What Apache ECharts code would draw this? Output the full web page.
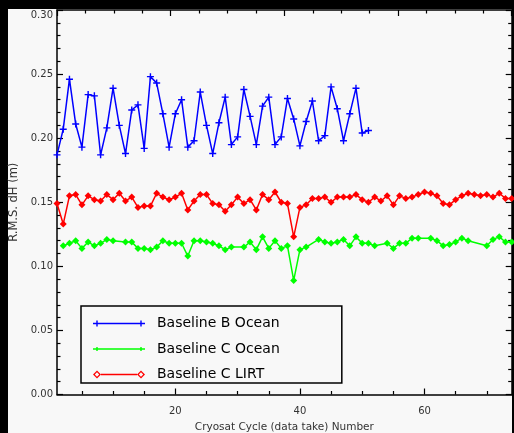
<!DOCTYPE html>
<html>
<head>
<meta charset="utf-8">
<script src="https://cdn.jsdelivr.net/npm/echarts@6/dist/echarts.min.js"></script>
<style>
  html, body { margin: 0; padding: 0; background: #000; }
  #bg { position: absolute; left: 8px; top: 9px; width: 504px; height: 424px; background: #f8f8f8; }
  #chart { position: absolute; left: 0; top: 0; width: 514px; height: 433px; }
</style>
</head>
<body>
<div id="bg"></div>
<div id="chart"></div>
<script>
// cycle numbers and r.m.s. values
const cycleBOcean = [1, 2, 3, 4, 5, 6, 7, 8, 9, 10, 11, 12, 13, 14, 15, 16, 17, 18, 19, 20,
  21, 22, 23, 24, 25, 26, 27, 28, 29, 30, 31, 32, 33, 34, 35, 36, 37, 38, 39, 40,
  41, 42, 43, 44, 45, 46, 47, 48, 49, 50, 51]
const rmsBOcean = [0.187, 0.207, 0.246, 0.211, 0.193, 0.234, 0.233, 0.187, 0.208, 0.239,
  0.210, 0.188, 0.222, 0.226, 0.192, 0.248, 0.243, 0.219, 0.193, 0.219,
  0.230, 0.193, 0.198, 0.236, 0.210, 0.188, 0.212, 0.232, 0.195, 0.201,
  0.238, 0.217, 0.195, 0.225, 0.232, 0.195, 0.201, 0.231, 0.215, 0.194,
  0.213, 0.229, 0.198, 0.202, 0.240, 0.223, 0.198, 0.219, 0.239, 0.204, 0.206]

const cycleCOcean = [2, 3, 4, 5, 6, 7, 8, 9, 10, 12, 13, 14, 15, 16, 17, 18, 19, 20,
  21, 22, 23, 24, 25, 26, 27, 28, 29, 31, 32, 33, 34, 35, 36, 37, 38, 39, 40,
  41, 43, 44, 45, 46, 47, 48, 49, 50, 51, 52, 54, 55, 56, 57, 58, 59,
  61, 62, 63, 64, 65, 66, 67, 70, 71, 72, 73, 74]
const rmsCOcean = [0.116, 0.118, 0.120, 0.114, 0.119, 0.116, 0.118, 0.121, 0.120, 0.119, 0.119, 0.114, 0.114, 0.113, 0.115, 0.120, 0.118, 0.118,
  0.118, 0.108, 0.120, 0.120, 0.119, 0.118, 0.116, 0.113, 0.115, 0.115, 0.119, 0.113, 0.123, 0.114, 0.120, 0.114, 0.116, 0.089, 0.113,
  0.115, 0.121, 0.119, 0.118, 0.119, 0.121, 0.116, 0.123, 0.118, 0.118, 0.116, 0.118, 0.114, 0.118, 0.118, 0.122, 0.122,
  0.122, 0.120, 0.116, 0.117, 0.119, 0.122, 0.120, 0.116, 0.121, 0.123, 0.119, 0.119]

const cycleCLirt = [1, 2, 3, 4, 5, 6, 7, 8, 9, 10, 11, 12, 13, 14, 15, 16, 17, 18, 19, 20,
  21, 22, 23, 24, 25, 26, 27, 28, 29, 30, 31, 32, 33, 34, 35, 36, 37, 38, 39, 40,
  41, 42, 43, 44, 45, 46, 47, 48, 49, 50, 51, 52, 53, 54, 55, 56, 57, 58, 59, 60,
  61, 62, 63, 64, 65, 66, 67, 68, 69, 70, 71, 72, 73, 74]
const rmsCLirt = [0.149, 0.133, 0.155, 0.156, 0.148, 0.155, 0.152, 0.151, 0.156, 0.152,
  0.157, 0.151, 0.154, 0.146, 0.147, 0.147, 0.157, 0.154, 0.152, 0.154,
  0.157, 0.144, 0.151, 0.156, 0.156, 0.149, 0.148, 0.143, 0.148, 0.154,
  0.149, 0.152, 0.144, 0.156, 0.152, 0.158, 0.150, 0.149, 0.123, 0.146,
  0.148, 0.153, 0.153, 0.154, 0.150, 0.154, 0.154, 0.154, 0.156, 0.152,
  0.150, 0.154, 0.151, 0.155, 0.148, 0.155, 0.153, 0.154, 0.156, 0.158,
  0.157, 0.155, 0.149, 0.148, 0.152, 0.155, 0.157, 0.156, 0.155, 0.156,
  0.154, 0.157, 0.153, 0.153]

const xLabelValues = [20, 40, 60]
const xMinorValues = [5, 10, 15, 25, 30, 35, 45, 50, 55, 65, 70]

const font = 'DejaVu Sans'
const plusSymbol = 'path://M4,0H6V4H10V6H6V10H4V6H0V4H4Z'
const iconBlue = 'path://M0,3.3H52V4.7H0Z M3.3,1H4.7V7H3.3Z M47.3,1H48.7V7H47.3Z'
const iconGreen = 'path://M0,3.3H52V4.7H0Z M3.3,2H4.7V6H3.3Z M47.3,2H48.7V6H47.3Z'
const iconRed = 'path://M0,4L4,0L8,4L4,8Z M1.8,4L4,6.2L6.2,4L4,1.8Z M8,3.3H44V4.7H8Z M44,4L48,0L52,4L48,8Z M45.8,4L48,6.2L50.2,4L48,1.8Z'

function zip(xs, ys) {
  return xs.map((x, i) => [x, ys[i]])
}

const axisLine = { show: true, onZero: false, lineStyle: { color: '#000', width: 1.5 } }
const tickStyle = { color: '#000', width: 1.2 }

const chart = echarts.init(document.getElementById('chart'))
const option = {
  animation: false,
  grid: { left: 57, right: 2.3, top: 10, bottom: 38.5, outerBoundsMode: 'none' },
  legend: {
    orient: 'vertical',
    left: 81,
    top: 306,
    padding: [10.5, 62, 1.5, 12],
    itemWidth: 52,
    itemHeight: 8,
    itemGap: 11.5,
    borderColor: '#000',
    borderWidth: 1.5,
    selectedMode: false,
    itemStyle: { borderWidth: 0 },
    textStyle: { fontFamily: font, fontSize: 14, color: '#000', padding: [0, 0, 0, 7] },
    data: [
      { name: 'Baseline B Ocean', icon: iconBlue },
      { name: 'Baseline C Ocean', icon: iconGreen },
      { name: 'Baseline C LIRT', icon: iconRed }
    ]
  },
  xAxis: [
    {
      type: 'value', min: 1, max: 74, position: 'bottom',
      axisLine: axisLine,
      axisTick: { inside: true, length: 6, customValues: xLabelValues, lineStyle: tickStyle },
      axisLabel: { customValues: xLabelValues, margin: 12, fontFamily: font, fontSize: 10, color: '#333' },
      splitLine: { show: false },
      name: 'Cryosat Cycle (data take) Number',
      nameLocation: 'middle',
      nameGap: 26,
      nameTextStyle: { fontFamily: font, fontSize: 10.5, color: '#333' }
    },
    {
      type: 'value', min: 1, max: 74, position: 'bottom',
      axisLine: { show: false, onZero: false },
      axisTick: { inside: true, length: 3.5, customValues: xMinorValues, lineStyle: tickStyle },
      axisLabel: { show: false },
      splitLine: { show: false }
    },
    {
      type: 'value', min: 1, max: 74, interval: 18.25, position: 'top',
      axisLine: axisLine,
      axisTick: { inside: true, length: 6, lineStyle: tickStyle },
      minorTick: { show: true, splitNumber: 4, length: 3.5, lineStyle: tickStyle },
      axisLabel: { show: false },
      splitLine: { show: false }
    }
  ],
  yAxis: [
    {
      type: 'value', min: 0, max: 0.3, interval: 0.05, position: 'left',
      axisLine: axisLine,
      axisTick: { inside: true, length: 6, lineStyle: tickStyle },
      minorTick: { show: true, splitNumber: 5, length: 3.5, lineStyle: tickStyle },
      axisLabel: {
        margin: 4, fontFamily: font, fontSize: 10, color: '#333',
        verticalAlignMaxLabel: 'top',
        formatter: v => v.toFixed(2)
      },
      splitLine: { show: false },
      name: 'R.M.S. dH (m)',
      nameLocation: 'middle',
      nameRotate: 90,
      nameGap: 31,
      nameTextStyle: { fontFamily: font, fontSize: 11.5, color: '#333' }
    },
    {
      type: 'value', min: 0, max: 0.3, interval: 0.05, position: 'right',
      axisLine: axisLine,
      axisTick: { inside: true, length: 6, lineStyle: tickStyle },
      minorTick: { show: true, splitNumber: 5, length: 3.5, lineStyle: tickStyle },
      axisLabel: { show: false },
      splitLine: { show: false }
    }
  ],
  series: [
    {
      name: 'Baseline B Ocean',
      type: 'line',
      data: zip(cycleBOcean, rmsBOcean),
      symbol: plusSymbol,
      symbolSize: 7,
      color: '#0000ff',
      lineStyle: { color: '#0000ff', width: 1.5 },
      itemStyle: { color: '#0000ff' }
    },
    {
      name: 'Baseline C Ocean',
      type: 'line',
      data: zip(cycleCOcean, rmsCOcean),
      symbol: 'diamond',
      symbolSize: 7,
      color: '#00ff00',
      lineStyle: { color: '#00ff00', width: 1.5 },
      itemStyle: { color: '#00ff00' }
    },
    {
      name: 'Baseline C LIRT',
      type: 'line',
      data: zip(cycleCLirt, rmsCLirt),
      symbol: 'diamond',
      symbolSize: 7,
      color: '#ff0000',
      lineStyle: { color: '#ff0000', width: 1.5 },
      itemStyle: { color: '#ff0000' }
    }
  ]
}
option && chart.setOption(option)
</script>
</body>
</html>
